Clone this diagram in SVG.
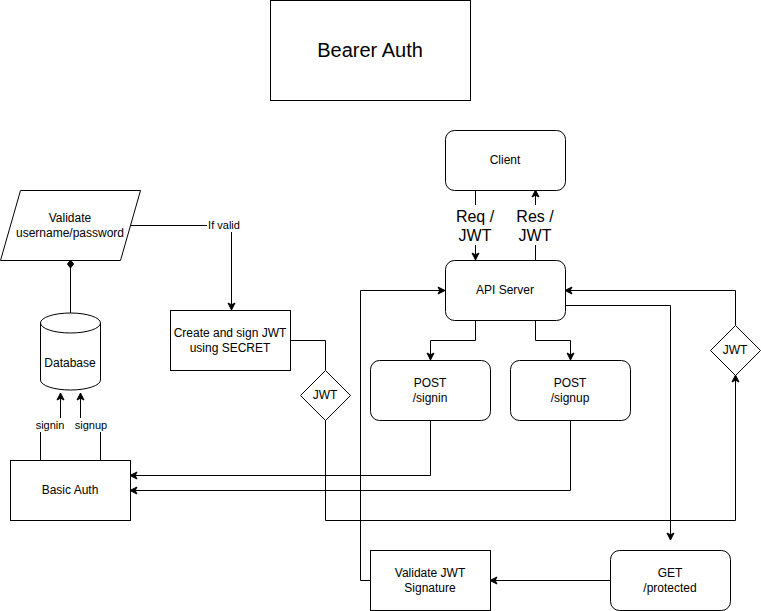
<svg xmlns="http://www.w3.org/2000/svg" width="761" height="611" viewBox="0 0 761 611">
<defs>
<style>
.n{fill:#fff;stroke:#000;stroke-width:1}
.t{font-family:"Liberation Sans",Arial,sans-serif;font-size:12px;fill:#000;text-anchor:middle;dominant-baseline:central}
.e{fill:none;stroke:#000;stroke-width:1}
.a{marker-end:url(#arr)}
.lb{fill:#fff;stroke:none}
</style>
<marker id="arr" markerUnits="userSpaceOnUse" markerWidth="10" markerHeight="10" refX="8" refY="5" orient="auto">
<path d="M1,1.5 L8,5 L1,8.5 L2.8,5 Z" fill="#000" stroke="#000" stroke-width="1"/>
</marker>
<marker id="dia" markerUnits="userSpaceOnUse" markerWidth="12" markerHeight="12" refX="1" refY="6" orient="auto">
<path d="M1,6 L5,3 L9,6 L5,9 Z" fill="#000" stroke="#000"/>
</marker>
</defs>
<rect width="761" height="611" fill="#fff"/>
<g id="edges">
<path class="e" d="M130,225.5 H231.5 V310" marker-end="url(#arr)"/>
<path class="e" d="M70.5,260 V313" marker-start="url(#dia)"/>
<path class="e" d="M40.5,460 V432"/>
<path class="e a" d="M60.5,418 V393"/>
<path class="e" d="M100.5,460 V432"/>
<path class="e a" d="M80.5,418 V393"/>
<path class="e" d="M290,340.5 H325.5 V370"/>
<path class="e a" d="M325.5,420 V520.5 H735.5 V375"/>
<path class="e a" d="M735.5,325 V290.5 H565"/>
<path class="e a" d="M475.5,190 V260"/>
<path class="e a" d="M535.5,260 V190"/>
<path class="e a" d="M475.5,320 V340.5 H430.5 V360"/>
<path class="e a" d="M535.5,320 V340.5 H570.5 V360"/>
<path class="e a" d="M430.5,420 V475.5 H130"/>
<path class="e a" d="M570.5,420 V490.5 H130"/>
<path class="e a" d="M565,305.5 H670.5 V540"/>
<path class="e a" d="M610,580.5 H490"/>
<path class="e a" d="M370,580.5 H360.5 V290.5 H445"/>
<rect class="lb" x="207" y="218" width="33" height="14"/>
<text class="t" x="224" y="225" style="font-size:11px">If valid</text>
<rect class="lb" x="34" y="418" width="32" height="14"/>
<text class="t" x="50" y="425" style="font-size:11px">signin</text>
<rect class="lb" x="75" y="418" width="33" height="14"/>
<text class="t" x="91" y="425" style="font-size:11px">signup</text>
<rect class="lb" x="454" y="205" width="43" height="40"/>
<text class="t" x="475" y="216" style="font-size:16px">Req /</text>
<text class="t" x="475" y="235" style="font-size:16px">JWT</text>
<rect class="lb" x="514" y="205" width="43" height="40"/>
<text class="t" x="535" y="216" style="font-size:16px">Res /</text>
<text class="t" x="535" y="235" style="font-size:16px">JWT</text>
</g>
<g id="title">
<rect class="n" x="270.5" y="0.5" width="200" height="100"/>
<text class="t" x="370" y="50" style="font-size:20px">Bearer Auth</text>
</g>
<g id="validate-user">
<path class="n" d="M20.5,190.5 H140.5 L120.5,260.5 H0.5 Z"/>
<text class="t" x="70" y="218">Validate</text>
<text class="t" x="70" y="233">username/password</text>
</g>
<g id="database">
<path class="n" d="M40.5,323 A30,10 0 0 1 100.5,323 V380 A30,10 0 0 1 40.5,380 Z"/>
<path class="e" d="M40.5,323 A30,10 0 0 0 100.5,323"/>
<text class="t" x="70" y="363">Database</text>
</g>
<g id="basic-auth">
<rect class="n" x="10.5" y="460.5" width="120" height="60"/>
<text class="t" x="70" y="490">Basic Auth</text>
</g>
<g id="create-jwt">
<rect class="n" x="170.5" y="310.5" width="120" height="60"/>
<text class="t" x="230" y="333">Create and sign JWT</text>
<text class="t" x="230" y="348">using SECRET</text>
</g>
<g id="jwt-left">
<path class="n" d="M325.5,370.5 L350.5,395.5 L325.5,420.5 L300.5,395.5 Z"/>
<text class="t" x="325" y="395">JWT</text>
</g>
<g id="jwt-right">
<path class="n" d="M735.5,325.5 L760.5,350.5 L735.5,375.5 L710.5,350.5 Z"/>
<text class="t" x="735" y="350">JWT</text>
</g>
<g id="client">
<rect class="n" x="445.5" y="130.5" width="120" height="60" rx="9"/>
<text class="t" x="505" y="160">Client</text>
</g>
<g id="api-server">
<rect class="n" x="445.5" y="260.5" width="120" height="60" rx="9"/>
<text class="t" x="505" y="290">API Server</text>
</g>
<g id="post-signin">
<rect class="n" x="370.5" y="360.5" width="120" height="60" rx="9"/>
<text class="t" x="430" y="383">POST</text>
<text class="t" x="430" y="398">/signin</text>
</g>
<g id="post-signup">
<rect class="n" x="510.5" y="360.5" width="120" height="60" rx="9"/>
<text class="t" x="570" y="383">POST</text>
<text class="t" x="570" y="398">/signup</text>
</g>
<g id="validate-jwt">
<rect class="n" x="370.5" y="550.5" width="120" height="60"/>
<text class="t" x="430" y="573">Validate JWT</text>
<text class="t" x="430" y="588">Signature</text>
</g>
<g id="get-protected">
<rect class="n" x="610.5" y="550.5" width="120" height="60" rx="9"/>
<text class="t" x="670" y="573">GET</text>
<text class="t" x="670" y="588">/protected</text>
</g>
</svg>
